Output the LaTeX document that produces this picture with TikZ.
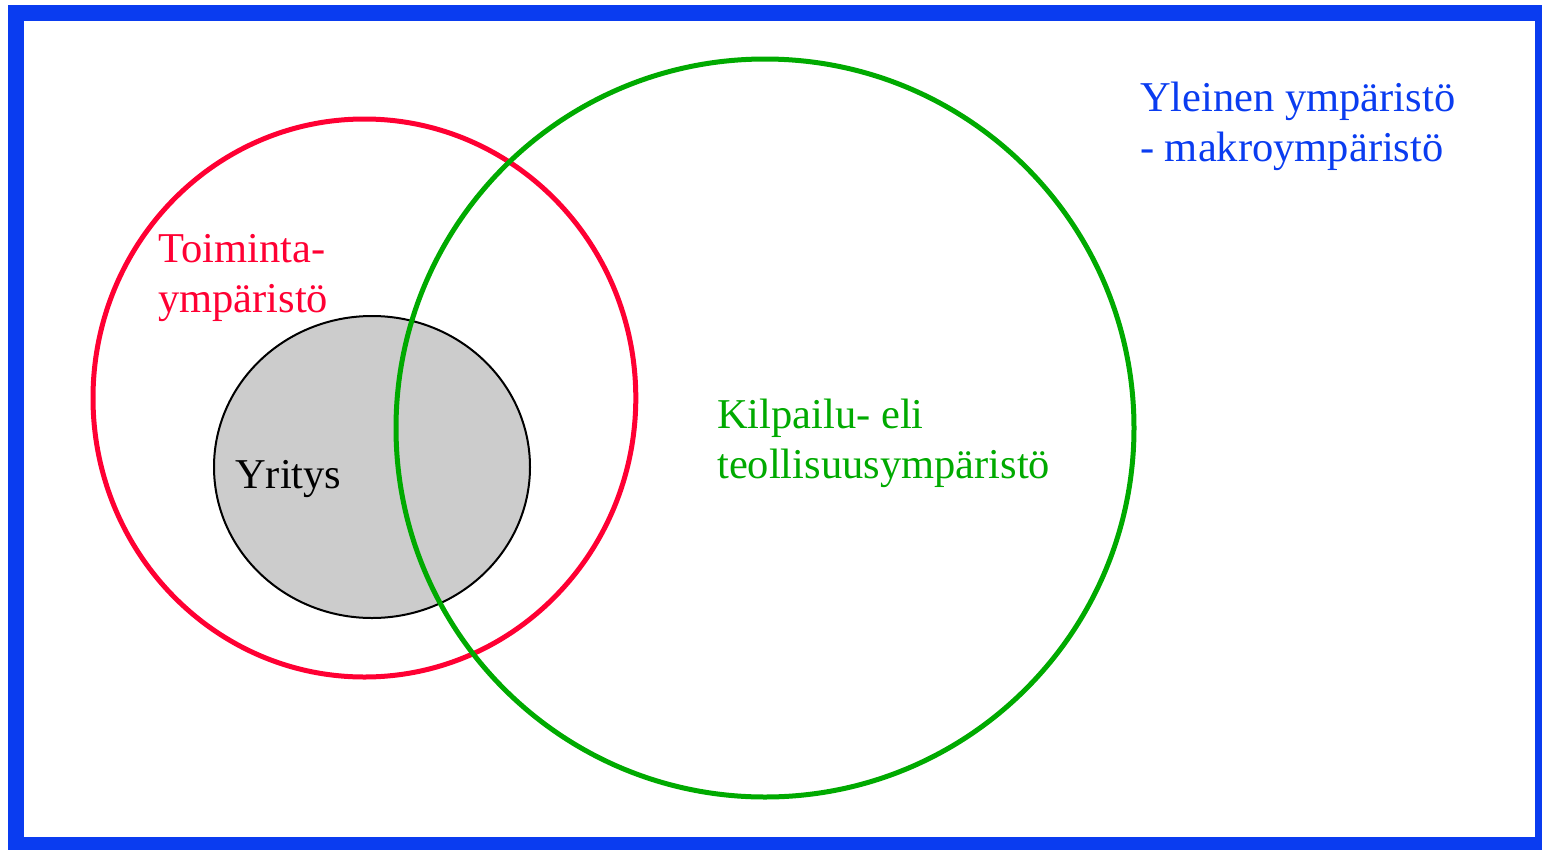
\documentclass[tikz,border=0pt]{standalone}
\usepackage{fontspec}
\setmainfont{Liberation Serif}
\definecolor{frameblue}{RGB}{10,60,240}
\definecolor{envred}{RGB}{255,0,51}
\definecolor{envgreen}{RGB}{0,170,0}
\definecolor{firmgray}{RGB}{204,204,204}
\begin{document}
\begin{tikzpicture}[x=1pt,y=-1pt,
  lbl/.style={anchor=base west,inner sep=0pt,font=\fontsize{42.5}{50}\selectfont,align=left},
  ring/.style={line width=5pt}]
\useasboundingbox (0,0) rectangle (1542,849);
\begin{scope}
\clip (0,0) rectangle (1542,849);
\draw[frameblue,line width=16pt] (16,13) rectangle (1543,845);
\end{scope}
\fill[firmgray] (372,467) ellipse [x radius=158,y radius=151];
\draw[black,line width=2pt] (372,467) ellipse [x radius=158,y radius=151];
\draw[ring,envred] (364.4,398) ellipse [x radius=271.4,y radius=279];
\draw[ring,envgreen] (765,428) ellipse [x radius=369,y radius=369];
\node[lbl,text=frameblue] (macro) at (1140,161) {Yleinen ympäristö\\- makroympäristö};
\node[lbl,text=envred] (toim) at (158,312) {Toiminta-\\ympäristö};
\node[lbl,text=envgreen] (kilp) at (717,478) {Kilpailu- eli\\teollisuusympäristö};
\node[lbl,text=black] (yritys) at (235,488) {Yritys};
\end{tikzpicture}
\end{document}
